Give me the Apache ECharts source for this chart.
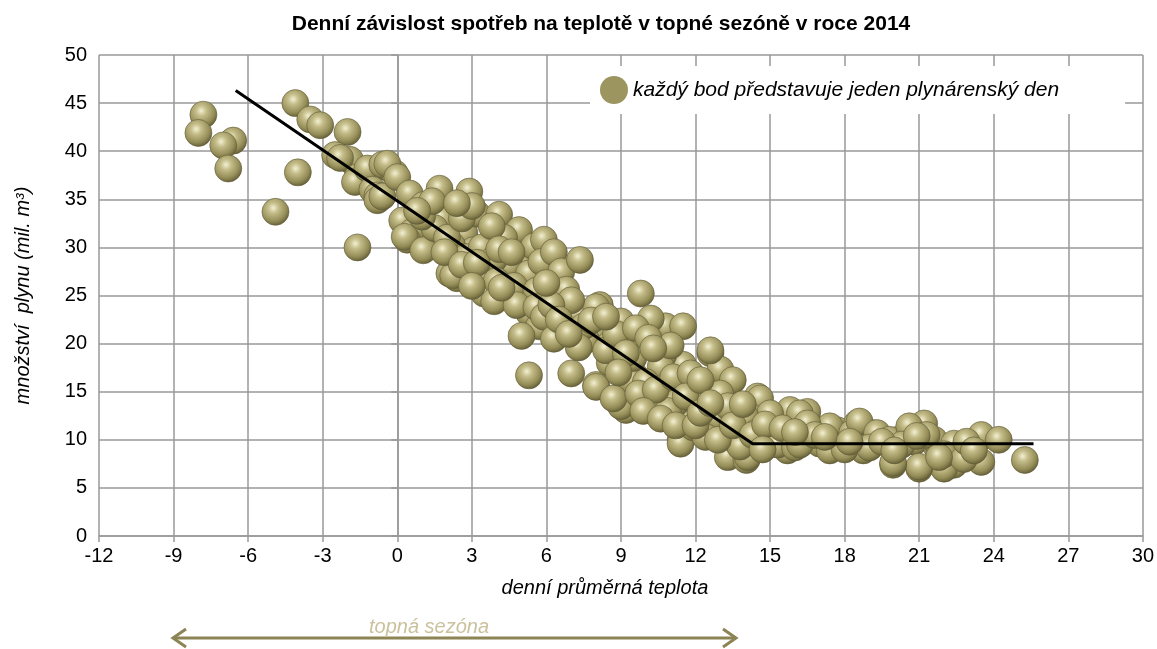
<!DOCTYPE html>
<html>
<head>
<meta charset="utf-8">
<script src="https://cdn.jsdelivr.net/npm/echarts@6.0.0/dist/echarts.min.js"></script>
<style>
  html, body { margin: 0; padding: 0; background: #fff; }
  #chart { width: 1157px; height: 649px; }
</style>
</head>
<body>
<div id="chart"></div>
<script>
// [denní průměrná teplota, spotřeba v mil. m3]
const dnyMraz = [
  [-7.8, 43.8], [-8.0, 41.9], [-6.6, 41.1], [-7.0, 40.6], [-6.8, 38.2],
  [-4.1, 45.0], [-3.5, 43.3], [-3.1, 42.7], [-4.0, 37.8], [-4.9, 33.7],
  [-2.0, 42.0], [-2.5, 39.6], [-1.9, 39.1], [-2.3, 39.3], [-1.6, 37.3],
  [-1.7, 36.8], [-1.2, 38.2], [-0.5, 38.4], [-0.6, 38.6], [-1.0, 36.0],
  [-0.8, 35.4], [-0.8, 34.9], [-0.6, 35.3], [-0.1, 37.7], [-1.6, 30.0],
  [-0.4, 38.7]
]
const dnyChladno = [
  [0.0, 37.3], [0.5, 35.6], [1.7, 36.1], [2.9, 35.8], [1.05, 34.4],
  [0.2, 32.8], [0.6, 31.6], [0.4, 30.8], [0.3, 31.1], [1.05, 29.7],
  [1.8, 33.0], [2.7, 31.5], [3.2, 33.5], [4.1, 33.4], [4.3, 31.1],
  [4.8, 31.5], [4.9, 31.8], [3.05, 29.7], [2.1, 27.3], [2.4, 26.8],
  [3.5, 25.6], [4.5, 28.3], [5.1, 27.7], [3.5, 27.7], [4.3, 31.0],
  [5.5, 30.1], [5.9, 30.8], [4.5, 28.2], [3.7, 27.3], [3.5, 25.2],
  [5.3, 27.3], [4.4, 24.9], [5.3, 23.2], [5.7, 21.8], [5.0, 20.8],
  [5.3, 16.7], [2.25, 27.1], [3.6, 27.3], [1.5, 32.0], [2.2, 30.2],
  [2.8, 29.0], [2.0, 31.0], [3.4, 30.0], [3.9, 28.8], [4.0, 26.5],
  [4.7, 26.0], [5.6, 25.5], [2.6, 33.0], [1.0, 33.2], [3.0, 34.3],
  [3.8, 32.2], [5.8, 28.5], [6.3, 29.5], [1.4, 34.8], [0.8, 33.8],
  [2.4, 34.6], [1.9, 29.5], [2.6, 28.2], [3.2, 28.4], [4.1, 29.8],
  [4.6, 29.5], [3.9, 24.4], [4.8, 24.0], [5.6, 23.8], [4.2, 25.8],
  [3.0, 26.0], [5.9, 22.8]
]
const dnyPrechod = [
  [6.6, 27.5], [6.8, 25.6], [7.35, 28.7], [6.3, 20.5], [8.15, 24.0],
  [9.8, 25.2], [9.0, 22.3], [10.3, 21.8], [10.8, 21.8], [11.5, 21.8],
  [7.9, 20.7], [7.0, 16.9], [8.0, 15.7], [9.9, 20.0], [11.5, 17.8],
  [9.4, 17.3], [10.7, 18.8], [8.55, 18.0], [7.35, 23.0], [10.2, 22.6],
  [7.6, 20.4], [8.55, 19.9], [9.5, 16.9], [10.6, 17.6], [8.0, 23.8],
  [8.4, 19.3], [9.4, 16.2], [8.0, 15.5], [11.5, 15.0], [10.3, 14.1],
  [9.2, 13.1], [11.6, 12.75], [11.4, 10.0], [11.4, 9.6], [7.0, 24.5],
  [6.2, 24.0], [6.5, 22.5], [7.5, 21.8], [8.8, 21.0], [9.5, 18.5],
  [10.0, 16.0], [10.8, 15.5], [11.2, 13.8], [9.0, 13.5], [8.7, 14.3],
  [9.7, 14.8], [10.9, 13.0], [11.9, 14.2], [11.0, 19.8], [6.0, 26.3],
  [7.8, 22.4], [8.4, 22.8], [9.6, 21.6], [10.1, 20.6], [9.2, 19.0],
  [10.3, 19.5], [8.9, 17.0], [10.4, 15.2], [11.1, 16.5], [11.8, 16.9],
  [9.9, 13.0], [10.6, 12.2], [11.9, 11.3], [11.2, 11.5], [7.3, 19.6],
  [6.9, 21.0]
]
const dnyTeplo = [
  [12.6, 19.0], [13.0, 17.3], [13.5, 16.2], [14.5, 14.5], [14.6, 14.3],
  [14.2, 12.4], [13.0, 11.4], [15.0, 12.1], [13.0, 14.8], [12.85, 12.4],
  [12.4, 10.3], [11.6, 14.5], [15.8, 13.1], [16.5, 12.9], [15.9, 10.5],
  [15.0, 10.0], [13.3, 8.2], [14.05, 7.9], [14.1, 8.2], [15.7, 8.9],
  [16.2, 12.75], [15.0, 12.75], [14.0, 12.4], [12.0, 11.5], [13.6, 10.0],
  [14.5, 10.8], [15.3, 9.5], [13.8, 9.3], [12.2, 12.8], [13.3, 13.5],
  [12.2, 16.2], [12.6, 19.3], [12.9, 10.0], [13.5, 11.5], [14.3, 10.5],
  [14.8, 11.6], [15.5, 11.2], [16.0, 9.2], [16.4, 10.8], [12.6, 13.8],
  [13.9, 13.7], [14.7, 9.0]
]
const dnyLeto = [
  [17.7, 11.0], [18.5, 11.7], [17.9, 10.0], [19.1, 10.7], [17.4, 11.4],
  [16.5, 11.7], [17.0, 9.6], [17.4, 8.9], [18.75, 9.3], [18.75, 8.9],
  [18.3, 10.7], [18.6, 11.9], [19.3, 10.7], [20.15, 10.0], [19.8, 10.0],
  [21.2, 11.7], [20.6, 11.4], [20.8, 9.8], [21.7, 9.3], [21.6, 10.0],
  [22.4, 9.1], [22.4, 9.6], [23.5, 10.3], [23.5, 10.5], [24.2, 10.0],
  [25.25, 7.9], [23.5, 7.7], [22.4, 7.4], [22.0, 7.0], [21.0, 7.0],
  [21.0, 7.2], [19.95, 7.4], [19.95, 7.6], [16.2, 9.5], [16.8, 10.5],
  [18.0, 9.0], [19.0, 9.2], [20.3, 9.5], [21.3, 10.5], [22.0, 8.5],
  [22.8, 8.0], [16.0, 10.8], [17.2, 10.3], [18.2, 9.8], [19.5, 9.8],
  [20.0, 8.9], [20.9, 10.4], [21.8, 8.2], [22.9, 9.8], [23.2, 8.9]
]
// lomená regresní přímka
const trendTeplota = [-6.5, 14.3, 25.6]
const trendSpotreba = [46.3, 9.6, 9.6]

const xTicks = { min: -12, max: 30, step: 3 }
const yTicks = { min: 0, max: 50, step: 5 }

const legendName = 'každý bod představuje jeden plynárenský den'
const fontFamily = '"Liberation Sans", Arial, sans-serif'
const gridColor = '#999'

const sphere = {
  type: 'radial', x: 0.42, y: 0.36, r: 0.64,
  colorStops: [
    { offset: 0, color: '#f3f0d3' },
    { offset: 0.3, color: '#c4bd89' },
    { offset: 0.75, color: '#948d58' },
    { offset: 1, color: '#67613a' }
  ]
}

const body = [...dnyMraz, ...dnyChladno, ...dnyPrechod, ...dnyTeplo, ...dnyLeto]

const myChart = echarts.init(document.getElementById('chart'))
myChart.setOption({
  animation: false,
  textStyle: { fontFamily: fontFamily },
  title: {
    text: 'Denní závislost spotřeb na teplotě v topné sezóně v roce 2014',
    left: 596,
    textAlign: 'center',
    top: 9,
    textStyle: { fontSize: 21, fontWeight: 'bold', color: '#000', fontFamily: fontFamily }
  },
  legend: {
    data: [{ name: legendName, icon: 'circle', itemStyle: { color: '#9d955f', borderWidth: 0 } }],
    left: 590,
    top: 66,
    padding: [10, 66, 10, 10],
    backgroundColor: '#fff',
    itemWidth: 28,
    itemHeight: 28,
    textStyle: { fontSize: 21, fontStyle: 'italic', color: '#000', fontFamily: fontFamily }
  },
  grid: { left: 99, right: 14, top: 55, bottom: 113 },
  xAxis: {
    type: 'value',
    min: xTicks.min, max: xTicks.max, interval: xTicks.step,
    name: 'denní průměrná teplota',
    nameLocation: 'middle',
    nameGap: 42,
    nameTextStyle: { fontSize: 20, fontStyle: 'italic', color: '#000', padding: [0, 32, 0, 0] },
    axisLine: { lineStyle: { color: gridColor, width: 1.5 } },
    axisTick: { show: true, length: 6, lineStyle: { color: gridColor, width: 1.5 } },
    axisLabel: { fontSize: 20, color: '#000', margin: 10 },
    splitLine: { show: true, lineStyle: { color: gridColor, width: 1.5 } }
  },
  yAxis: {
    type: 'value',
    min: yTicks.min, max: yTicks.max, interval: yTicks.step,
    name: 'množství  plynu (mil. m³)',
    nameLocation: 'middle',
    nameGap: 66,
    nameTextStyle: { fontSize: 20, fontStyle: 'italic', color: '#000' },
    axisLine: { show: true, lineStyle: { color: gridColor, width: 1.5 } },
    axisTick: { show: true, length: 6, lineStyle: { color: gridColor, width: 1.5 } },
    axisLabel: { fontSize: 20, color: '#000', margin: 12 },
    splitLine: { show: true, lineStyle: { color: gridColor, width: 1.5 } }
  },
  series: [{
    name: legendName,
    type: 'scatter',
    data: body,
    symbolSize: 27,
    z: 2,
    itemStyle: {
      color: sphere,
      borderColor: '#5f5a36',
      borderWidth: 0.6,
      opacity: 1
    }
  }, {
    name: 'trend',
    type: 'line',
    data: trendTeplota.map((t, i) => [t, trendSpotreba[i]]),
    showSymbol: false,
    symbol: 'none',
    z: 3,
    lineStyle: { color: '#000', width: 3 }
  }],
  graphic: [{
    type: 'group',
    children: [{
      type: 'line',
      shape: { x1: 173, y1: 638, x2: 736, y2: 638 },
      style: { stroke: '#8c8455', lineWidth: 3 }
    }, {
      type: 'polyline',
      shape: { points: [[186, 629], [173, 638], [186, 647]] },
      style: { stroke: '#8c8455', lineWidth: 3, fill: null }
    }, {
      type: 'polyline',
      shape: { points: [[723, 629], [736, 638], [723, 647]] },
      style: { stroke: '#8c8455', lineWidth: 3, fill: null }
    }, {
      type: 'text',
      x: 429,
      y: 627,
      style: {
        text: 'topná sezóna',
        fill: '#c9c29c',
        font: 'italic 20px ' + fontFamily,
        textAlign: 'center',
        textVerticalAlign: 'middle'
      }
    }]
  }]
})
</script>
</body>
</html>
